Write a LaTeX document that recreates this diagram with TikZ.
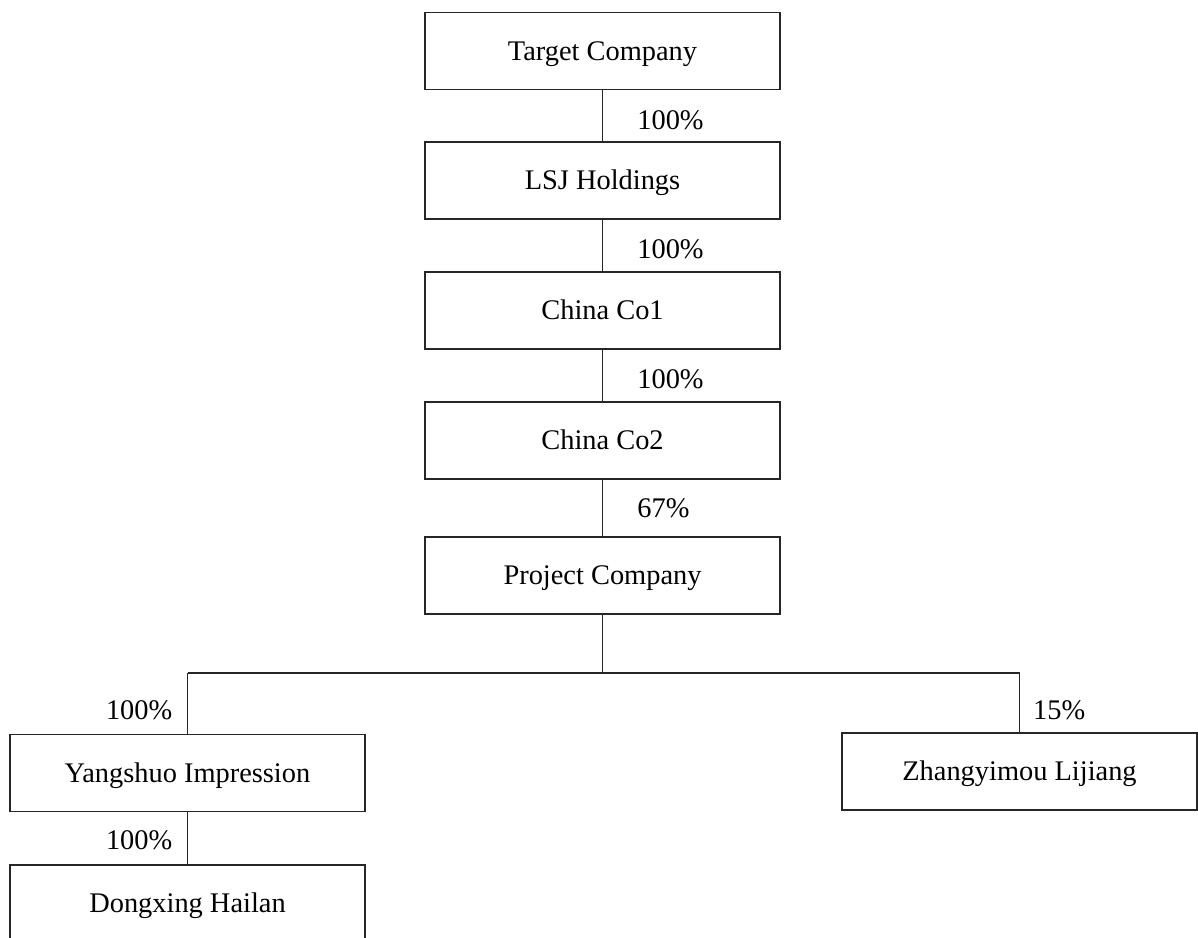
\documentclass[tikz,border=0pt]{standalone}
\usepackage{fontspec}
\setmainfont{Liberation Serif}
\tikzset{
  company/.style={draw=black!85, line width=0.8pt, rectangle, minimum width=8.875cm, minimum height=1.925cm, inner sep=0pt, text height=13.3pt, text depth=0pt, font=\fontsize{20.2}{24}\selectfont},
  pctright/.style={right, xshift=0.74cm, font=\fontsize{20.2}{24}\selectfont},
  pctleft/.style={left, xshift=-0.24cm, font=\fontsize{20.2}{24}\selectfont},
  pctside/.style={right, xshift=0.21cm, font=\fontsize{20.2}{24}\selectfont},
  link/.style={draw=black!85, line width=0.8pt},
  boldlink/.style={draw=black!85, line width=1.3pt}
}
\begin{document}
\begin{tikzpicture}
        \useasboundingbox (0,0) rectangle (29.95,-23.425);

        % Holding chain
        \node[company] (target) at (15.0625,-1.275) {Target Company};
        \node[company] (lsj) at (15.0625,-4.5125) {LSJ Holdings};
        \node[company] (co1) at (15.0625,-7.7625) {China Co1};
        \node[company] (co2) at (15.0625,-11.0125) {China Co2};
        \node[company] (project) at (15.0625,-14.3875) {Project Company};

        \draw[link] (target) -- (lsj) node[pctright,pos=0.58] {100\%};
        \draw[link] (lsj) -- (co1) node[pctright,pos=0.58] {100\%};
        \draw[link] (co1) -- (co2) node[pctright,pos=0.58] {100\%};
        \draw[link] (co2) -- (project) node[pctright,pos=0.5] {67\%};

        % Subsidiaries of the project company
        \node[company] (yangshuo) at (4.6875,-19.325) {Yangshuo Impression};
        \node[company] (zhangyimou) at (25.4875,-19.2875) {Zhangyimou Lijiang};
        \node[company] (dongxing) at (4.6875,-22.5875) {Dongxing Hailan};

        \coordinate (fork) at (15.0625,-16.825);
        \draw[link] (project) -- (fork);
        \draw[link] (yangshuo.north |- fork) -- (fork) -| (zhangyimou.north)
            node[pctside,pos=0.81] {15\%};
        \draw[boldlink] (yangshuo.north) -- (yangshuo.north |- fork)
            node[pctleft,pos=0.39] {100\%};
        \draw[boldlink] (yangshuo) -- (dongxing) node[pctleft,pos=0.53] {100\%};
    \end{tikzpicture}
\end{document}
